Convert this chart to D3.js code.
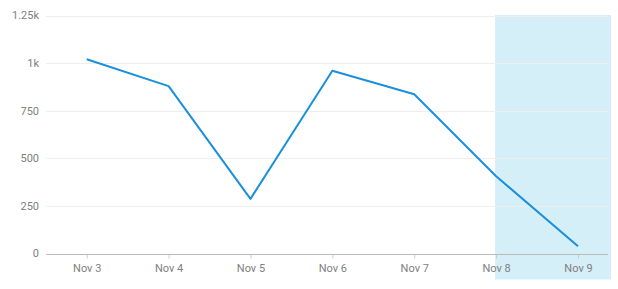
<!DOCTYPE html>
<html>
<head>
<meta charset="utf-8">
<script src="https://cdn.jsdelivr.net/npm/d3@7"></script>
<style>
  body { margin: 0; background: #fff; }
  text { font-family: "Roboto", "Noto Sans", sans-serif; }
</style>
</head>
<body>
<div id="chart"></div>
<script>
const days = ["Nov 3", "Nov 4", "Nov 5", "Nov 6", "Nov 7", "Nov 8", "Nov 9"];
const values = [1020, 879, 287, 960, 836, 406, 38];
const yTicks = [0, 250, 500, 750, 1000, 1250];
const yTickLabels = ["0", "250", "500", "750", "1k", "1.25k"];
const highlightFrom = "Nov 8";

const W = 618, H = 289;
const PLOT = { LEFT: 46, RIGHT: 608, TOP: 15.5, BOTTOM: 253.5 };

const svg = d3.select("#chart")
    .append("svg")
    .attr("width", W)
    .attr("height", H);

const x = d3.scalePoint()
    .domain(days)
    .range([86.7, 578]);

const y = d3.scaleLinear()
    .domain([0, 1250])
    .range([PLOT.BOTTOM, PLOT.TOP]);

// shaded forecast area
svg.append("rect")
    .attr("x", x(highlightFrom) - 1)
    .attr("y", PLOT.TOP - 0.5)
    .attr("width", 611 - x(highlightFrom) + 1)
    .attr("height", 280 - PLOT.TOP)
    .attr("fill", "#d5eff9");

// grid
svg.append("g")
    .selectAll("line")
    .data(yTicks.filter(d => d > 0))
    .enter()
    .append("line")
    .attr("x1", PLOT.LEFT)
    .attr("x2", PLOT.RIGHT)
    .attr("y1", d => Math.round(y(d)) + 0.5)
    .attr("y2", d => Math.round(y(d)) + 0.5)
    .attr("stroke", "#eeeeee")
    .attr("stroke-width", 1);

// y labels
svg.append("g")
    .selectAll("text")
    .data(yTicks)
    .enter()
    .append("text")
    .attr("x", 39)
    .attr("y", d => y(d))
    .attr("dy", "0.35em")
    .attr("text-anchor", "end")
    .attr("font-size", 11)
    .attr("fill", "#808080")
    .text((d, i) => yTickLabels[i]);

// x axis
const xAxis = d3.axisBottom(x).tickSize(4).tickPadding(6).tickSizeOuter(0);
const gx = svg.append("g")
    .attr("transform", `translate(0, ${Math.round(PLOT.BOTTOM) + 0.5})`)
    .call(xAxis);
gx.select(".domain").remove();
gx.append("line")
    .attr("x1", PLOT.LEFT)
    .attr("x2", PLOT.RIGHT)
    .attr("stroke", "#bbbbbb");
gx.selectAll(".tick line").attr("stroke", "#cccccc");
gx.selectAll(".tick text")
    .attr("font-size", 11)
    .attr("font-family", "Roboto, 'Noto Sans', sans-serif")
    .attr("fill", "#808080");

// line
const line = d3.line()
    .x((d, i) => x(days[i]))
    .y(d => y(d));

svg.append("path")
    .datum(values)
    .attr("d", line)
    .attr("fill", "none")
    .attr("stroke", "#1a8fdc")
    .attr("stroke-width", 2)
    .attr("stroke-linejoin", "round");
</script>
</body>
</html>
